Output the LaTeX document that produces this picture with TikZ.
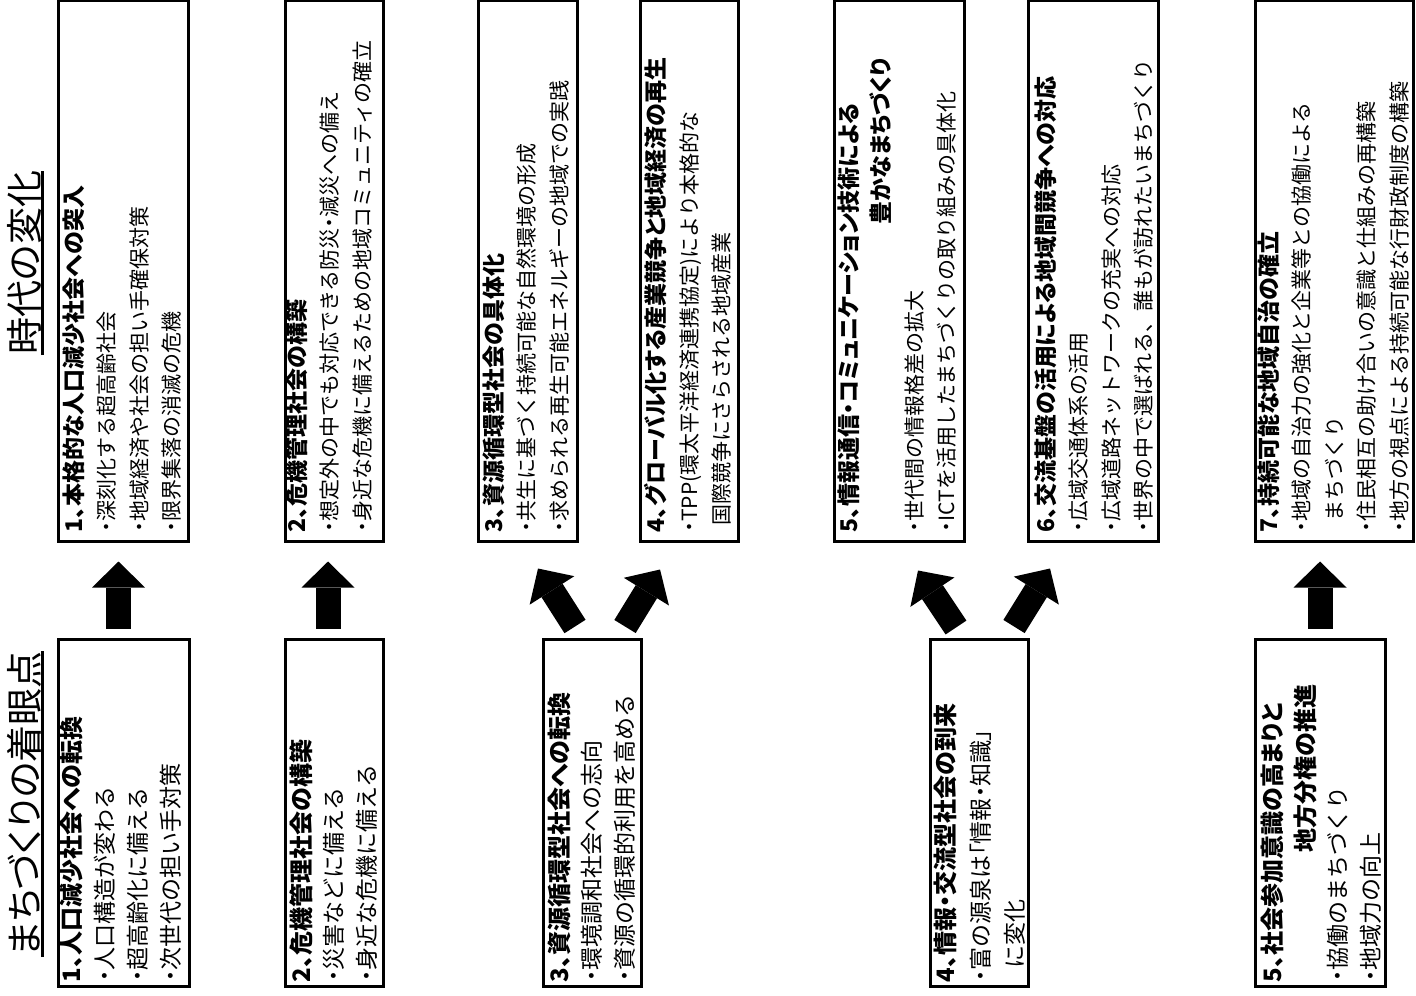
\documentclass[tikz,border=0pt]{standalone}
\usepackage{fontspec}
\setmainfont{Noto Sans CJK JP}
\newfontfamily\jph{Noto Sans CJK JP}[RawFeature={+palt}]
\usetikzlibrary{fit,calc,arrows.meta}
\newcommand\tophead[1]{{\jph\fontsize{11.5}{16.25}\selectfont\bfseries #1}}
\newcommand\bothead[1]{{\jph\fontsize{12}{16.25}\selectfont\bfseries #1}}
\newcommand\bul{{\jph ・}}
\newcommand\jpq[1]{{\jph #1}}
\begin{document}
\begin{tikzpicture}[x=0.5pt,y=-0.5pt,
  box/.style={draw, line width=1.5pt, inner sep=0pt, fill=white},
  txt/.style={rotate=90, anchor=north west, inner sep=0pt, align=left},
  tfont/.style={font=\fontsize{10.5}{16.25}\selectfont},
  bfont/.style={font=\fontsize{11.5}{16.25}\selectfont},
  ttl/.style={rotate=90, anchor=base west, inner sep=0pt, font=\jph\fontsize{18.5}{20}\selectfont},
  ul/.style={line width=1.2pt},
  blk/.style={line width=12.5pt, -{Triangle[width=26.5pt,length=13pt,line width=0pt]}}
]
\useasboundingbox (0,0) rectangle (1416,995);

% titles
\node[ttl] (title1) at (39,355) {時代の変化};
\draw[ul] (title1.south west) -- (title1.south east);
\node[ttl] (title2) at (39,957) {まちづくりの着眼点};
\draw[ul] (title2.south west) -- (title2.south east);

% top boxes
\node[box, fit={(58,0.5) (188,541)}] (t1) {};
\node[box, fit={(285,0.5) (383,541)}] (t2) {};
\node[box, fit={(478,0.5) (577,541)}] (t3) {};
\node[box, fit={(640,0.5) (738,541)}] (t4) {};
\node[box, fit={(834,0.5) (964,541)}] (t5) {};
\node[box, fit={(1028,0.5) (1158,541)}] (t6) {};
\node[box, fit={(1255,0.5) (1413,541)}] (t7) {};

\node[txt, tfont] (t1x) at ([shift={(5.5,-10)}]t1.south west) {\tophead{1、本格的な人口減少社会への突入}\\\bul 深刻化する超高齢社会\\\bul 地域経済や社会の担い手確保対策\\\bul 限界集落の消滅の危機};
\node[txt, tfont] (t2x) at ([shift={(1.5,-10)}]t2.south west) {\tophead{2、危機管理社会の構築}\\\bul 想定外の中でも対応できる防災\bul 減災への備え\\\bul 身近な危機に備えるための地域コミュニティの確立};
\node[txt, tfont] (t3x) at ([shift={(5.5,-10)}]t3.south west) {\tophead{3、資源循環型社会の具体化}\\\bul 共生に基づく持続可能な自然環境の形成\\\bul 求められる再生可能エネルギーの地域での実践};
\node[txt, tfont] (t4x) at ([shift={(5.5,-10)}]t4.south west) {\tophead{4、グローバル化する産業競争と地域経済の再生}\\\bul TPP(環太平洋経済連携協定)により本格的な\\\hspace*{0.3em}国際競争にさらされる地域産業};
\node[txt, tfont] (t5x) at ([shift={(4.5,-10)}]t5.south west) {\tophead{5、情報通信・コミュニケーション技術による}\\\hspace*{154pt}\tophead{豊かなまちづくり}\\\bul 世代間の情報格差の拡大\\\bul ICTを活用したまちづくりの取り組みの具体化};
\node[txt, tfont] (t6x) at ([shift={(7.5,-10)}]t6.south west) {\tophead{6、交流基盤の活用による地域間競争への対応}\\\bul 広域交通体系の活用\\\bul 広域道路ネットワークの充実への対応\\\bul 世界の中で選ばれる、誰もが訪れたいまちづくり};
\node[txt, tfont] (t7x) at ([shift={(3.5,-10)}]t7.south west) {\tophead{7、持続可能な地域自治の確立}\\\bul 地域の自治力の強化と企業等との協働による\\\hspace*{0.5em}まちづくり\\\bul 住民相互の助け合いの意識と仕組みの再構築\\\bul 地方の視点による持続可能な行財政制度の構築};

% bottom boxes
\node[box, fit={(58,639) (189,986)}] (b1) {};
\node[box, fit={(285,639) (383,986)}] (b2) {};
\node[box, fit={(543,639) (641,986)}] (b3) {};
\node[box, fit={(930,639) (1028,986)}] (b4) {};
\node[box, fit={(1255,639) (1385,986)}] (b5) {};

\node[txt, bfont, font=\fontsize{11.5}{16.5}\selectfont] (b1x) at ([shift={(3.5,-5)}]b1.south west) {\bothead{1、人口減少社会への転換}\\\bul 人口構造が変わる\\\bul 超高齢化に備える\\\bul 次世代の担い手対策};
\node[txt, bfont] (b2x) at ([shift={(5.5,-5)}]b2.south west) {\bothead{2、危機管理社会の構築}\\\bul 災害などに備える\\\bul 身近な危機に備える};
\node[txt, bfont] (b3x) at ([shift={(5.5,-5)}]b3.south west) {\bothead{3、資源循環型社会への転換}\\\bul 環境調和社会への志向\\\bul 資源の循環的利用を高める};
\node[txt, bfont, font=\fontsize{11.5}{17.25}\selectfont] (b4x) at ([shift={(5.5,-5)}]b4.south west) {\bothead{4、情報・交流型社会の到来}\\\bul 富の源泉は\jpq{「}情報\bul 知識\jpq{」}\\\hspace*{0.6em}に変化};
\node[txt, bfont] (b5x) at ([shift={(7.5,-5)}]b5.south west) {\bothead{5、社会参加意識の高まりと}\\\hspace*{65pt}\bothead{地方分権の推進}\\\bul 協働のまちづくり\\\bul 地域力の向上};

% arrows
\draw[blk] ([shift={(-5,-9)}]b1.north) -- ++(0,-67);
\draw[blk] ([shift={(-6,-9)}]b2.north) -- ++(0,-67);
\draw[blk] ([shift={(-17,-11)}]b3.north) -- ++(-37,-58);
\draw[blk] ([shift={(33,-11)}]b3.north) -- ++(35,-57);
\draw[blk] ([shift={(-23,-10)}]b4.north) -- ++(-38,-57);
\draw[blk] ([shift={(35,-11)}]b4.north) -- ++(36,-58);
\draw[blk] ([shift={(0,-9)}]b5.north) -- ++(0,-67);
\end{tikzpicture}
\end{document}
